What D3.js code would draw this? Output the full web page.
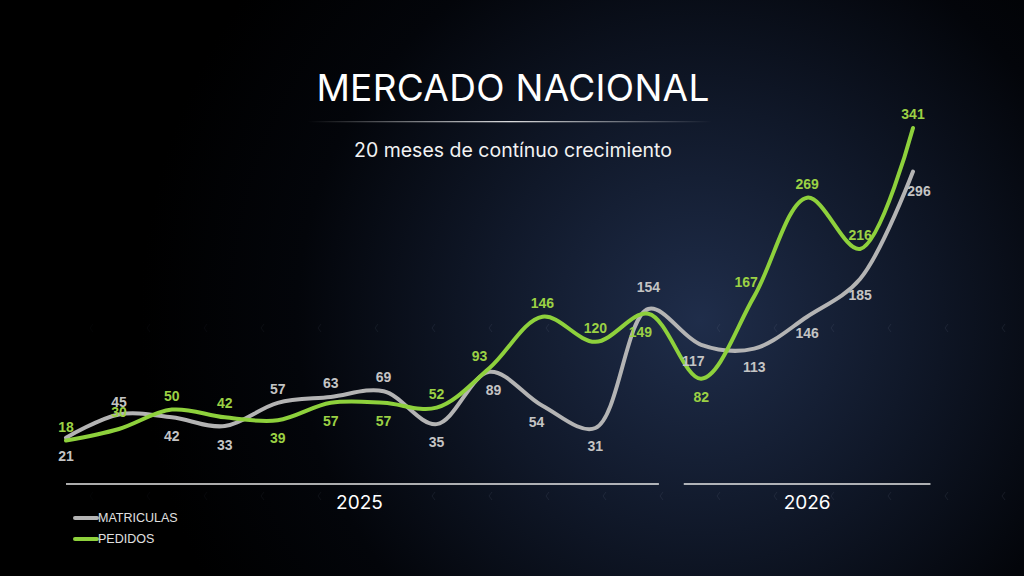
<!DOCTYPE html>
<html>
<head>
<meta charset="utf-8">
<script src="https://cdn.jsdelivr.net/npm/d3@7"></script>
<style>
  html, body { margin: 0; padding: 0; background: #000; }
  #chart { width: 1024px; height: 576px; }
</style>
</head>
<body>
<div id="chart"></div>
<script>
(function(){
  // data
  const months = ["ene-25","feb-25","mar-25","abr-25","may-25","jun-25","jul-25","ago-25","sep-25","oct-25","nov-25","dic-25",
                  "ene-26","feb-26","mar-26","abr-26","may-26"];
  const matriculas = [21, 45, 42, 33, 57, 63, 69, 35, 89, 54, 31, 154, 117, 113, 146, 185, 296];
  const pedidos = [18, 30, 50, 42, 39, 57, 57, 52, 93, 146, 120, 149, 82, 167, 269, 216, 341];
  const years = ["2025", "2026"];
  const yearMonths = [12, 5];

  // label offsets (layout only)
  const grayOff = [[0,18],[0,-12],[0,19],[0,19],[0,-14],[0,-14],[0,-14],[0,18],[4,18],[-6,16],[0,18],[0,-22],[-8,16],[0,18],[0,16],[0,16],[6,20]];
  const greenOff = [[0,-13],[0,-17],[0,-14],[0,-14],[0,18],[0,18],[0,18],[0,-14],[-10,-12],[0,-14],[0,-14],[-8,18],[0,18],[-8,-14],[0,-14],[0,-14],[0,-14]];

  const width = 1024, height = 576;

  const svg = d3.select("#chart").append("svg")
    .attr("width", width)
    .attr("height", height);

  const defs = svg.append("defs");
  const bg = defs.append("radialGradient")
    .attr("id", "bg")
    .attr("gradientUnits", "userSpaceOnUse")
    .attr("cx", 700).attr("cy", 320).attr("r", 560);
  bg.append("stop").attr("offset", "0%").attr("stop-color", "#1f2d4a");
  bg.append("stop").attr("offset", "38%").attr("stop-color", "#101829");
  bg.append("stop").attr("offset", "72%").attr("stop-color", "#03050a");
  bg.append("stop").attr("offset", "100%").attr("stop-color", "#000000");

  const divider = defs.append("linearGradient").attr("id", "divider");
  divider.append("stop").attr("offset", "0%").attr("stop-color", "#fff").attr("stop-opacity", 0);
  divider.append("stop").attr("offset", "50%").attr("stop-color", "#fff").attr("stop-opacity", 0.85);
  divider.append("stop").attr("offset", "100%").attr("stop-color", "#fff").attr("stop-opacity", 0);

  svg.append("rect")
    .attr("width", width).attr("height", height)
    .attr("fill", "url(#bg)");

  // faint chevrons in background
  const chev = svg.append("g").attr("fill", "none").attr("stroke", "#8896b0").attr("stroke-width", 1);
  d3.range(0, 17).forEach(i => {
    [328, 496].forEach(yy => {
      const xx = 90 + i * 57;
      chev.append("path")
        .attr("d", `M${xx+3},${yy-4} L${xx},${yy} L${xx+3},${yy+4}`)
        .attr("stroke-opacity", Math.max(0.03, Math.min(0.12, (xx - 100) / 4000 + 0.03)));
    });
  });

  // titles
  svg.append("text")
    .attr("x", 513).attr("y", 101)
    .attr("text-anchor", "middle")
    .attr("fill", "#fff")
    .style("font-family", "Inter, 'Open Sans', sans-serif")
    .style("font-size", "37px")
    .style("font-weight", 400)
    .style("letter-spacing", "0.3px")
    .text("MERCADO NACIONAL");

  svg.append("rect")
    .attr("x", 308).attr("y", 121).attr("width", 404).attr("height", 1.3)
    .attr("fill", "url(#divider)");

  svg.append("text")
    .attr("x", 513).attr("y", 157)
    .attr("text-anchor", "middle")
    .attr("fill", "#f2f2f2")
    .style("font-family", "Inter, 'Open Sans', sans-serif")
    .style("font-size", "19.5px")
    .text("20 meses de contínuo crecimiento");

  // scales
  const x = d3.scalePoint()
    .domain(months)
    .range([66, 913]);

  const y = d3.scaleLinear()
    .domain([0, 341])
    .range([458, 128]);

  const line = d3.line()
    .x((d, i) => x(months[i]))
    .y(d => y(d))
    .curve(d3.curveCatmullRom.alpha(0.5));

  const series = [
    { name: "MATRICULAS", values: matriculas, color: "#b4b4b4", label: "#c4c4c4", off: grayOff },
    { name: "PEDIDOS", values: pedidos, color: "#8ed13c", label: "#9bd144", off: greenOff }
  ];

  series.forEach(s => {
    svg.append("path")
      .datum(s.values)
      .attr("fill", "none")
      .attr("stroke", s.color)
      .attr("stroke-width", 4)
      .attr("stroke-linecap", "round")
      .attr("d", line);
  });

  series.forEach(s => {
    svg.append("g")
      .selectAll("text")
      .data(s.values)
      .join("text")
      .attr("x", (d, i) => x(months[i]) + s.off[i][0])
      .attr("y", (d, i) => y(d) + s.off[i][1])
      .attr("dy", "0.35em")
      .attr("text-anchor", "middle")
      .attr("fill", s.label)
      .style("font-family", "'Liberation Sans', Arial, sans-serif")
      .style("font-size", "14px")
      .style("font-weight", "bold")
      .text(d => d);
  });

  // year axis
  const step = x.step();
  let start = 0;
  years.forEach((yr, k) => {
    const n = yearMonths[k];
    const x0 = k === 0 ? x(months[start]) : x(months[start]) - step * 0.33;
    const x1 = k === 0 ? x(months[start + n - 1]) + step * 0.2 : x(months[start + n - 1]) + step * 0.33;
    svg.append("line")
      .attr("x1", x0).attr("x2", x1)
      .attr("y1", 484).attr("y2", 484)
      .attr("stroke", "#e6e6e6")
      .attr("stroke-width", 1.5);
    svg.append("text")
      .attr("x", (x0 + x1) / 2 + (k === 0 ? -3 : 0))
      .attr("y", 509)
      .attr("text-anchor", "middle")
      .attr("fill", "#fff")
      .style("font-family", "Inter, 'Open Sans', sans-serif")
      .style("font-size", "19px")
      .text(yr);
    start += n;
  });

  // legend
  const legend = svg.append("g").attr("transform", "translate(75,518)");
  series.forEach((s, i) => {
    const g = legend.append("g").attr("transform", `translate(0,${i * 21})`);
    g.append("line")
      .attr("x1", 0).attr("x2", 22)
      .attr("stroke", s.color)
      .attr("stroke-width", 4)
      .attr("stroke-linecap", "round");
    g.append("text")
      .attr("x", 23).attr("dy", "0.35em")
      .attr("fill", "#e0e0e0")
      .style("font-family", "'Liberation Sans', Arial, sans-serif")
      .style("font-size", "12.5px")
      .text(s.name);
  });
})();
</script>
</body>
</html>
